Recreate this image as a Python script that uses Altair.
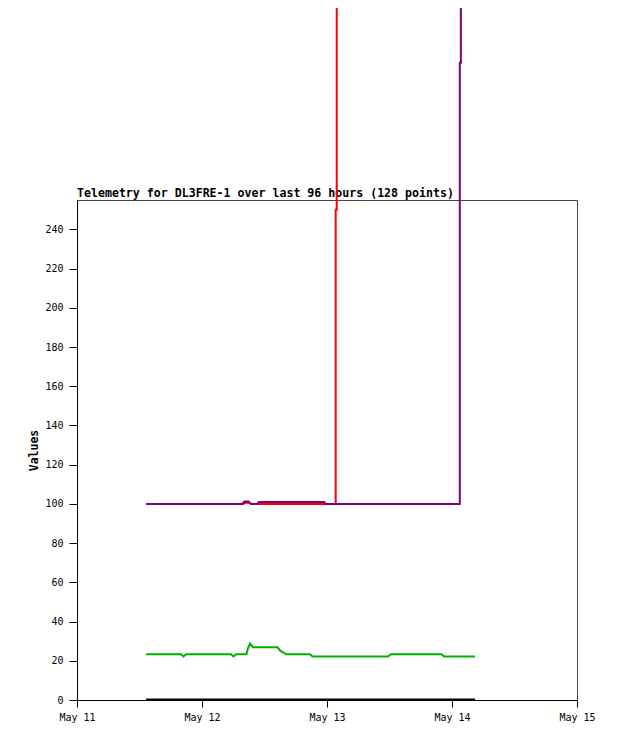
import altair as alt
import pandas as pd

TITLE = "Telemetry for DL3FRE-1 over last 96 hours (128 points)"

# series: timestamps (UTC) and values
black_t = ["2024-05-11T13:15", "2024-05-14T04:25"]
black_v = [0.3, 0.3]

green_t = ["2024-05-11T13:15", "2024-05-11T20:00", "2024-05-11T20:27", "2024-05-11T20:56",
           "2024-05-12T05:34", "2024-05-12T06:03", "2024-05-12T06:32", "2024-05-12T08:33",
           "2024-05-12T08:50", "2024-05-12T09:13", "2024-05-12T09:48", "2024-05-12T14:30",
           "2024-05-12T15:04", "2024-05-12T15:39", "2024-05-12T16:08", "2024-05-12T20:44",
           "2024-05-12T21:13", "2024-05-13T11:43", "2024-05-13T12:17", "2024-05-13T21:59",
           "2024-05-13T22:28", "2024-05-14T04:25"]
green_v = [23.3, 23.3, 22.2, 23.3,
           23.3, 22.2, 23.3, 23.5,
           26.5, 28.8, 26.9, 26.9,
           25.0, 24.2, 23.3, 23.3,
           22.2, 22.2, 23.3, 23.3,
           22.2, 22.2]

red_t = ["2024-05-11T13:15", "2024-05-12T07:50", "2024-05-12T08:20", "2024-05-12T09:00",
         "2024-05-12T09:30", "2024-05-13T01:40", "2024-05-13T01:40", "2024-05-13T01:52",
         "2024-05-13T01:52", "2024-05-14T04:25"]
red_v = [100, 100, 100.6, 100.6, 100, 100, 250, 250, 3000, 3000]

purple_t = ["2024-05-11T13:15", "2024-05-12T07:40", "2024-05-12T08:10", "2024-05-12T08:55",
            "2024-05-12T09:25", "2024-05-12T10:34", "2024-05-12T10:57", "2024-05-12T23:25",
            "2024-05-12T23:49", "2024-05-14T01:30", "2024-05-14T01:30", "2024-05-14T01:42",
            "2024-05-14T01:42", "2024-05-14T04:25"]
purple_v = [100, 100, 101.2, 101.2,
            100, 100, 101, 101,
            100, 100, 325, 325,
            3000, 3000]

x_days = [11, 12, 13, 14, 15]
y_ticks = [0, 20, 40, 60, 80, 100, 120, 140, 160, 180, 200, 220, 240]


def frame(ts, vs):
    return pd.DataFrame({"t": [s + ":00Z" for s in ts], "v": vs, "i": list(range(len(vs)))})


x_enc = alt.X(
    "t:T",
    scale=alt.Scale(type="utc",
                    domain=[alt.DateTime(year=2024, month=5, date=11, utc=True),
                            alt.DateTime(year=2024, month=5, date=15, utc=True)]),
    axis=alt.Axis(values=[alt.DateTime(year=2024, month=5, date=d, utc=True) for d in x_days],
                  labelExpr="utcFormat(datum.value, '%b %d')", title=None, grid=False,
                  labelFont="DejaVu Sans Mono", labelFontSize=10, labelColor="#000",
                  tickSize=7, tickColor="#000", domainColor="#000", labelPadding=5,
                  labelFlush=False, labelOverlap=False),
)
y_enc = alt.Y(
    "v:Q",
    scale=alt.Scale(domain=[0, 255], nice=False, zero=False),
    axis=alt.Axis(values=y_ticks, title="Values", grid=False,
                  labelFont="DejaVu Sans Mono", labelFontSize=10, labelColor="#000",
                  titleFont="DejaVu Sans Mono", titleFontSize=11.5, titleFontWeight="bold",
                  titleColor="#000", titlePadding=5,
                  tickSize=8, tickColor="#000", domainColor="#000", labelPadding=6),
)


def line(ts, vs, color):
    return alt.Chart(frame(ts, vs)).mark_line(color=color, strokeWidth=2, clip=False,
                                              interpolate="linear").encode(
        x=x_enc, y=y_enc, order=alt.Order("i:Q"))


title_mark = alt.Chart(pd.DataFrame({"title": [TITLE]})).mark_text(
    align="left", baseline="alphabetic", font="DejaVu Sans Mono", fontSize=11.6,
    fontWeight="bold", color="#000", clip=False,
).encode(x=alt.value(0), y=alt.value(-3), text="title:N")

chart = alt.layer(
    line(black_t, black_v, "#000000"),
    line(green_t, green_v, "#00b000"),
    title_mark,
    line(red_t, red_v, "#ff0000"),
    line(purple_t, purple_v, "#800080"),
).properties(
    width=500, height=500,
    autosize=alt.AutoSizeParams(type="none"),
    padding={"left": 69, "top": 192, "right": 33, "bottom": 33},
).configure_view(stroke="#444", strokeWidth=1)

chart.save("out.html", embed_options={"renderer": "svg", "actions": False})
